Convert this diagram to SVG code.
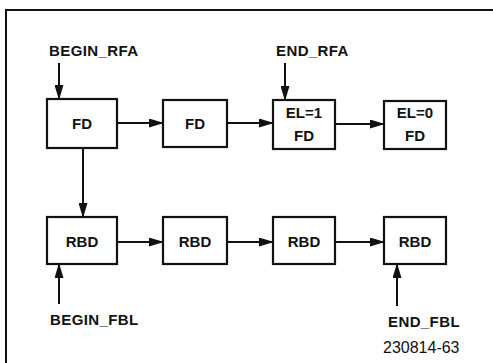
<svg xmlns="http://www.w3.org/2000/svg" width="493" height="363" viewBox="0 0 493 363">
<style>
.box{fill:#fff;stroke:#111;stroke-width:2.2}
.t{font-family:"Liberation Sans",Arial,sans-serif;font-weight:bold;font-size:15px;fill:#111;text-anchor:middle}
.lbl{font-family:"Liberation Sans",Arial,sans-serif;font-weight:bold;font-size:15px;letter-spacing:0.4px;fill:#111}
.num{font-family:"Liberation Sans",Arial,sans-serif;font-size:16px;fill:#111}
.c{stroke:#111;stroke-width:2;fill:none;marker-end:url(#ah)}
</style>
<defs>
<marker id="ah" markerWidth="15" markerHeight="9" refX="14" refY="4.5" orient="auto" markerUnits="userSpaceOnUse">
<path d="M0,0 L15,4.5 L0,9 Z" fill="#111"/>
</marker>
</defs>
<rect width="493" height="363" fill="#fff"/>
<path d="M6,363 V10 H493" fill="none" stroke="#111" stroke-width="2"/>
<g id="connectors">
<line class="c" x1="59" y1="63" x2="59" y2="99"/>
<line class="c" x1="285" y1="63" x2="285" y2="100"/>
<line class="c" x1="117" y1="123" x2="163" y2="123"/>
<line class="c" x1="227" y1="123" x2="273" y2="123"/>
<line class="c" x1="335" y1="124" x2="384" y2="124"/>
<line class="c" x1="83" y1="148" x2="83" y2="217"/>
<line class="c" x1="117" y1="242" x2="163" y2="242"/>
<line class="c" x1="227" y1="242" x2="273" y2="242"/>
<line class="c" x1="335" y1="242" x2="384" y2="242"/>
<line class="c" x1="59" y1="304" x2="59" y2="264"/>
<line class="c" x1="397" y1="306" x2="397" y2="264"/>
</g>
<g id="fd1"><rect class="box" x="47" y="99" width="70" height="49"/><text class="t" x="82" y="129">FD</text></g>
<g id="fd2"><rect class="box" x="163" y="100" width="64" height="47"/><text class="t" x="195" y="129">FD</text></g>
<g id="fd3"><rect class="box" x="273" y="100" width="62" height="49"/><text class="t" x="304" y="118">EL=1</text><text class="t" x="304" y="141">FD</text></g>
<g id="fd4"><rect class="box" x="384" y="101" width="62" height="48"/><text class="t" x="415" y="118">EL=0</text><text class="t" x="415" y="141">FD</text></g>
<g id="rbd1"><rect class="box" x="47" y="217" width="70" height="47"/><text class="t" x="82" y="247">RBD</text></g>
<g id="rbd2"><rect class="box" x="163" y="217" width="64" height="47"/><text class="t" x="195" y="247">RBD</text></g>
<g id="rbd3"><rect class="box" x="273" y="217" width="62" height="47"/><text class="t" x="304" y="247">RBD</text></g>
<g id="rbd4"><rect class="box" x="384" y="217" width="62" height="47"/><text class="t" x="415" y="247">RBD</text></g>
<g id="begin_rfa"><text class="lbl" x="49" y="56">BEGIN_RFA</text></g>
<g id="end_rfa"><text class="lbl" x="276" y="56">END_RFA</text></g>
<g id="begin_fbl"><text class="lbl" x="50" y="325">BEGIN_FBL</text></g>
<g id="end_fbl"><text class="lbl" x="388" y="327">END_FBL</text></g>
<text class="num" x="383" y="353">230814-63</text>
</svg>
